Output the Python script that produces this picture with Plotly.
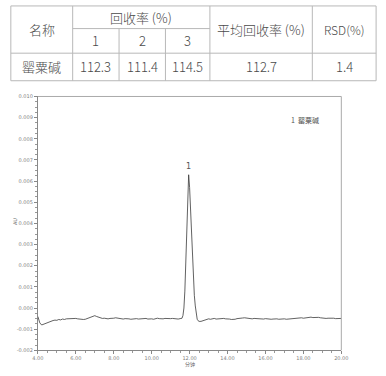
import plotly.graph_objects as go

# ---------------- table data ----------------
table_name_header = "名称"
table_group_header = "回收率 (%)"
table_sub_headers = ["1", "2", "3"]
table_mean_header = "平均回收率 (%)"
table_rsd_header = "RSD(%)"
table_row_name = "罂粟碱"
recovery_values = ["112.3", "111.4", "114.5"]
mean_recovery = "112.7"
rsd_value = "1.4"

# ---------------- chromatogram data ----------------
time_min = [
    4.0, 4.1, 4.2, 4.3, 4.4, 4.5, 4.6, 4.7, 4.8, 4.9,
    5.0, 5.1, 5.2, 5.3, 5.4, 5.5, 5.6, 5.7, 5.8, 5.9,
    6.0, 6.1, 6.2, 6.3, 6.4, 6.5, 6.6, 6.7, 6.8, 6.9,
    7.0, 7.1, 7.2, 7.3, 7.4, 7.5, 7.6, 7.7, 7.8, 7.9,
    8.0, 8.1, 8.2, 8.3, 8.4, 8.5, 8.6, 8.7, 8.8, 8.9,
    9.0, 9.1, 9.2, 9.3, 9.4, 9.5, 9.6, 9.7, 9.8, 9.9,
    10.0, 10.1, 10.2, 10.3, 10.4, 10.5, 10.6, 10.7, 10.8, 10.9,
    11.0, 11.1, 11.2, 11.3, 11.4, 11.5,
    11.55, 11.60, 11.65, 11.70, 11.75, 11.80, 11.85, 11.90, 11.95, 12.00,
    12.05, 12.10, 12.15, 12.20, 12.25, 12.30, 12.35, 12.40, 12.45, 12.50,
    12.6, 12.7, 12.8, 12.9, 13.0, 13.1, 13.2, 13.3, 13.4, 13.5,
    13.6, 13.7, 13.8, 13.9, 14.0, 14.1, 14.2, 14.3, 14.4, 14.5,
    14.6, 14.7, 14.8, 14.9, 15.0, 15.1, 15.2, 15.3, 15.4, 15.5,
    15.6, 15.7, 15.8, 15.9, 16.0, 16.1, 16.2, 16.3, 16.4, 16.5,
    16.6, 16.7, 16.8, 16.9, 17.0, 17.1, 17.2, 17.3, 17.4, 17.5,
    17.6, 17.7, 17.8, 17.9, 18.0, 18.1, 18.2, 18.3, 18.4, 18.5,
    18.6, 18.7, 18.8, 18.9, 19.0, 19.1, 19.2, 19.3, 19.4, 19.5,
    19.6, 19.7, 19.8, 19.9, 20.0,
]
absorbance_au = [
    -0.00040, -0.00070, -0.00080, -0.00076, -0.00072, -0.00068, -0.00065, -0.00061, -0.00059, -0.00057,
    -0.00058, -0.00054, -0.00056, -0.00052, -0.00054, -0.00051, -0.00050, -0.00052, -0.00049, -0.00047,
    -0.00049, -0.00051, -0.00053, -0.00055, -0.00054, -0.00053, -0.00050, -0.00048, -0.00045, -0.00041,
    -0.00036, -0.00040, -0.00044, -0.00046, -0.00049, -0.00048, -0.00050, -0.00051, -0.00049, -0.00050,
    -0.00048, -0.00046, -0.00048, -0.00051, -0.00050, -0.00052, -0.00050, -0.00049, -0.00051, -0.00053,
    -0.00051, -0.00049, -0.00050, -0.00052, -0.00051, -0.00049, -0.00047, -0.00049, -0.00052, -0.00050,
    -0.00051, -0.00053, -0.00050, -0.00048, -0.00050, -0.00052, -0.00051, -0.00049, -0.00050, -0.00052,
    -0.00050, -0.00049, -0.00051, -0.00050, -0.00052, -0.00050,
    -0.00050, -0.00048, -0.00035, 0.00000, 0.00080, 0.00220, 0.00400, 0.00560, 0.00630, 0.00570,
    0.00450, 0.00330, 0.00220, 0.00130, 0.00060, 0.00010, -0.00030, -0.00053, -0.00060, -0.00063,
    -0.00063, -0.00060, -0.00056, -0.00053, -0.00051, -0.00053, -0.00050, -0.00049, -0.00052, -0.00051,
    -0.00053, -0.00050, -0.00049, -0.00051, -0.00050, -0.00052, -0.00054, -0.00055, -0.00053, -0.00050,
    -0.00048, -0.00049, -0.00047, -0.00046, -0.00048, -0.00050, -0.00049, -0.00051, -0.00049, -0.00050,
    -0.00052, -0.00051, -0.00053, -0.00052, -0.00050, -0.00052, -0.00051, -0.00053, -0.00052, -0.00050,
    -0.00051, -0.00053, -0.00052, -0.00050, -0.00051, -0.00053, -0.00052, -0.00051, -0.00049, -0.00050,
    -0.00048, -0.00049, -0.00047, -0.00046, -0.00048, -0.00046, -0.00044, -0.00045, -0.00043, -0.00045,
    -0.00044, -0.00046, -0.00044, -0.00046, -0.00048, -0.00047, -0.00049, -0.00048, -0.00047, -0.00049,
    -0.00048, -0.00050, -0.00049, -0.00050, -0.00049,
]
peak_label = "1"
peak_time = 11.95
peak_height = 0.0063
legend_text = "1  罂粟碱"
y_ticks = [-0.002, -0.001, 0.000, 0.001, 0.002, 0.003, 0.004, 0.005, 0.006, 0.007, 0.008, 0.009, 0.010]
y_tick_text = ["-0.002", "-0.001", "0.000", "0.001", "0.002", "0.003", "0.004", "0.005",
               "0.006", "0.007", "0.008", "0.009", "0.010"]
x_ticks = [4, 6, 8, 10, 12, 14, 16, 18, 20]
x_tick_text = ["4.00", "6.00", "8.00", "10.00", "12.00", "14.00", "16.00", "18.00", "20.00"]

W, H = 386, 376
CJK = "Noto Sans CJK SC"


def px(x):
    return x / W


def py(y):
    return 1 - y / H


fig = go.Figure()
fig.add_trace(go.Scatter(x=time_min, y=absorbance_au, mode="lines",
                         line=dict(color="#3a3a3a", width=0.8), hoverinfo="skip",
                         showlegend=False))

# ---------- table drawing ----------
shapes = []
annotations = []
grid = "#b8b8b8"
col_x = [5, 69, 117, 165, 211, 317, 383]
row_top, row_mid, row_hdr, row_bot = 3, 26, 51, 79


def hline(x0, x1, y):
    shapes.append(dict(type="line", xref="paper", yref="paper", x0=px(x0), x1=px(x1),
                       y0=py(y), y1=py(y), line=dict(color=grid, width=1)))


def vline(x, y0, y1):
    shapes.append(dict(type="line", xref="paper", yref="paper", x0=px(x), x1=px(x),
                       y0=py(y0), y1=py(y1), line=dict(color=grid, width=1)))


hline(col_x[0], col_x[-1], row_top)
hline(col_x[1], col_x[4], row_mid)
hline(col_x[0], col_x[-1], row_hdr)
hline(col_x[0], col_x[-1], row_bot)
vline(col_x[0], row_top, row_bot)
vline(col_x[1], row_top, row_bot)
vline(col_x[2], row_mid, row_bot)
vline(col_x[3], row_mid, row_bot)
vline(col_x[4], row_top, row_bot)
vline(col_x[5], row_top, row_bot)
vline(col_x[6], row_top, row_bot)


def cell_text(text, x0, x1, y0, y1, size=13):
    annotations.append(dict(text=text, xref="paper", yref="paper",
                            x=px((x0 + x1) / 2), y=py((y0 + y1) / 2),
                            xanchor="center", yanchor="middle", showarrow=False,
                            font=dict(family=CJK, size=size, color="#4a4a4a", weight=300)))


cell_text(table_name_header, col_x[0], col_x[1], row_top, row_hdr)
cell_text(table_group_header, col_x[1], col_x[4], row_top, row_mid)
for i, t in enumerate(table_sub_headers):
    cell_text(t, col_x[1 + i], col_x[2 + i], row_mid, row_hdr)
cell_text(table_mean_header, col_x[4], col_x[5], row_top, row_hdr)
cell_text(table_rsd_header, col_x[5], col_x[6], row_top, row_hdr, size=12)
cell_text(table_row_name, col_x[0], col_x[1], row_hdr, row_bot)
for i, t in enumerate(recovery_values):
    cell_text(t, col_x[1 + i], col_x[2 + i], row_hdr, row_bot)
cell_text(mean_recovery, col_x[4], col_x[5], row_hdr, row_bot)
cell_text(rsd_value, col_x[5], col_x[6], row_hdr, row_bot)

# ---------- chart annotations ----------
annotations.append(dict(text=peak_label, x=peak_time, y=peak_height, xref="x", yref="y",
                        yshift=8, showarrow=False,
                        font=dict(family="DejaVu Sans", size=8, color="#555555")))
annotations.append(dict(text=legend_text, x=px(293), y=0.0089, xref="paper", yref="y",
                        xanchor="left", yanchor="middle", showarrow=False,
                        font=dict(family=CJK, size=7, color="#555555")))
annotations.append(dict(text="AU", xref="paper", yref="paper", x=px(10), y=py(222),
                        textangle=-90, showarrow=False, xanchor="center", yanchor="middle",
                        font=dict(family="DejaVu Sans", size=5, color="#666666")))
annotations.append(dict(text="分钟", xref="paper", yref="paper", x=px(190), y=py(367),
                        showarrow=False, xanchor="center", yanchor="middle",
                        font=dict(family=CJK, size=5, color="#666666")))

# plot frame (top and right sides)
shapes.append(dict(type="line", xref="paper", yref="paper", x0=px(33), x1=px(347),
                   y0=py(95), y1=py(95), line=dict(color="#aaaaaa", width=1)))
shapes.append(dict(type="line", xref="paper", yref="paper", x0=px(347), x1=px(347),
                   y0=py(95), y1=py(353), line=dict(color="#aaaaaa", width=1)))

tickfont = dict(family="DejaVu Sans", size=5, color="#808080")
fig.update_layout(
    width=W, height=H, margin=dict(l=0, r=0, t=0, b=0),
    paper_bgcolor="white", plot_bgcolor="white",
    shapes=shapes, annotations=annotations, showlegend=False,
    xaxis=dict(domain=[px(33), px(347)], range=[4, 20], tickvals=x_ticks, ticktext=x_tick_text,
               showgrid=False, zeroline=False, showline=True, linecolor="#888888", linewidth=1,
               ticks="outside", ticklen=3, tickcolor="#888888", tickfont=tickfont,
               minor=dict(dtick=0.5, ticks="outside", ticklen=2, tickcolor="#999999")),
    yaxis=dict(domain=[py(353), py(95)], range=[-0.002, 0.010], tickvals=y_ticks,
               ticktext=y_tick_text, showgrid=False, zeroline=False, showline=True,
               linecolor="#888888", linewidth=1, ticks="outside", ticklen=3,
               tickcolor="#888888", tickfont=tickfont,
               minor=dict(dtick=0.00025, ticks="outside", ticklen=2, tickcolor="#999999")),
)

fig.write_html("out.html")
